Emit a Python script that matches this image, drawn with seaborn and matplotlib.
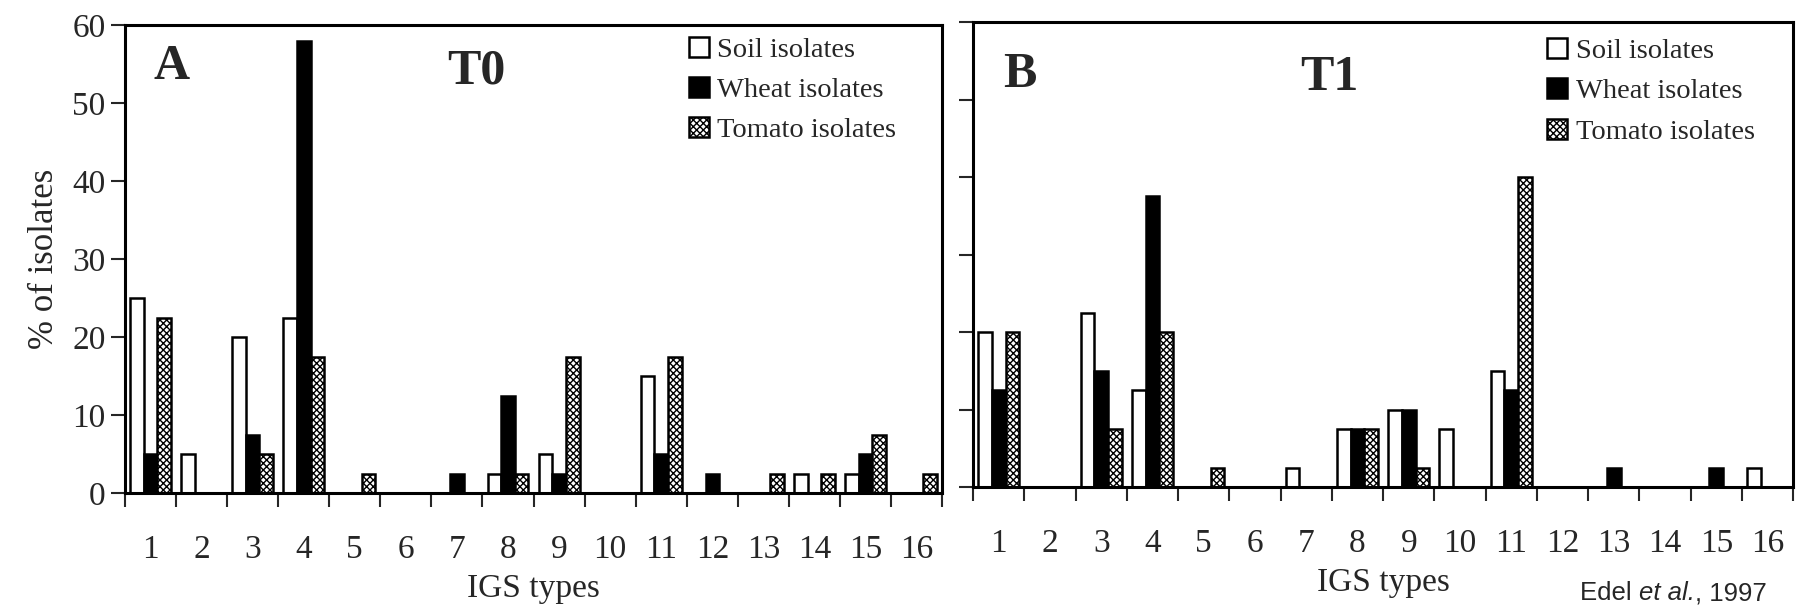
import matplotlib
matplotlib.use("Agg")
import matplotlib.pyplot as plt
import numpy as np
import pandas as pd
import seaborn as sns
from matplotlib.patches import Patch

# IGS types on the x axis
igs_types = [str(i) for i in range(1, 17)]
series = ["Soil isolates", "Wheat isolates", "Tomato isolates"]

# panel A, T0 (% of isolates)
t0_soil = [25, 5, 20, 22.5, 0, 0, 0, 2.5, 5, 0, 15, 0, 0, 2.5, 2.5, 0]
t0_wheat = [5, 0, 7.5, 58, 0, 0, 2.5, 12.5, 2.5, 0, 5, 2.5, 0, 0, 5, 0]
t0_tomato = [22.5, 0, 5, 17.5, 2.5, 0, 0, 2.5, 17.5, 0, 17.5, 0, 2.5, 2.5, 7.5, 2.5]

# panel B, T1 (% of isolates)
t1_soil = [20, 0, 22.5, 12.5, 0, 0, 2.5, 7.5, 10, 7.5, 15, 0, 0, 0, 0, 2.5]
t1_wheat = [12.5, 0, 15, 37.5, 0, 0, 0, 7.5, 10, 0, 12.5, 0, 2.5, 0, 2.5, 0]
t1_tomato = [20, 0, 7.5, 20, 2.5, 0, 0, 7.5, 2.5, 0, 40, 0, 0, 0, 0, 0]

y_ticks = [0, 10, 20, 30, 40, 50, 60]


def long_table(soil, wheat, tomato):
    rows = []
    for name, vals in zip(series, [soil, wheat, tomato]):
        for t, v in zip(igs_types, vals):
            rows.append({"IGS": t, "series": name, "pct": v})
    return pd.DataFrame(rows)


sns.set_style("ticks")
plt.rcParams["font.family"] = ["Liberation Serif", "DejaVu Serif"]
plt.rcParams["hatch.linewidth"] = 1.0

palette = {"Soil isolates": "white", "Wheat isolates": "black", "Tomato isolates": "white"}


def draw_panel(ax, df, letter, tlabel, show_ylabels, leg_x, leg_y, letter_y, t_x, t_y):
    sns.barplot(data=df, x="IGS", y="pct", hue="series", order=igs_types,
                hue_order=series, palette=palette, edgecolor="black",
                linewidth=1.8, width=0.8, gap=0, legend=False, ax=ax)
    for p in ax.containers[2]:
        p.set_hatch("xxxxx")

    ax.set_xlim(-0.5, 15.5)
    ax.set_ylim(0, 60)
    ax.set_yticks(y_ticks)
    ax.set_xticks(range(16))
    ax.set_xticklabels(igs_types, fontsize=24)
    ax.set_xticks(np.arange(-0.5, 16, 1), minor=True)
    ax.tick_params(axis="x", which="major", length=0, pad=30)
    ax.tick_params(axis="x", which="minor", length=10, width=1.5, direction="out")
    ax.tick_params(axis="y", length=10, width=1.5, direction="out", labelsize=24, pad=4)
    if not show_ylabels:
        ax.set_yticklabels([])
        ax.set_ylabel("")
    else:
        ax.set_ylabel("% of isolates", fontsize=25, labelpad=8)
    ax.set_xlabel("IGS types", fontsize=24, labelpad=6)
    for s in ax.spines.values():
        s.set_visible(True)
        s.set_linewidth(2.2)
        s.set_color("black")

    ax.text(0.057, letter_y, letter, transform=ax.transAxes, fontsize=36,
            fontweight="bold", ha="center", va="center")
    ax.text(t_x, t_y, tlabel, transform=ax.transAxes, fontsize=36,
            fontweight="bold", ha="center", va="center")

    handles = [Patch(facecolor="white", edgecolor="black", linewidth=1.8),
               Patch(facecolor="black", edgecolor="black", linewidth=1.8),
               Patch(facecolor="white", edgecolor="black", linewidth=1.8, hatch="xxxxx")]
    ax.legend(handles, series, loc="upper left", bbox_to_anchor=(leg_x, leg_y),
              frameon=False, fontsize=20.5, handlelength=0.7, handleheight=0.7,
              handletextpad=0.3, labelspacing=0.5, borderpad=0, borderaxespad=0)


fig = plt.figure(figsize=(17.98, 6.12), dpi=100)
ax_a = fig.add_axes([0.0695, 0.1944, 0.4545, 0.7647])
ax_b = fig.add_axes([0.5412, 0.2042, 0.4561, 0.7598])

draw_panel(ax_a, long_table(t0_soil, t0_wheat, t0_tomato), "A", "T0", True,
           0.69, 0.975, 0.91, 0.43, 0.9)
draw_panel(ax_b, long_table(t1_soil, t1_wheat, t1_tomato), "B", "T1", False,
           0.70, 0.965, 0.886, 0.435, 0.88)

# citation, in three pieces so "et al." can be italic in the same family
sans = ["Liberation Sans", "DejaVu Sans"]
renderer = fig.canvas.get_renderer()
x = 1580
y = 612 - 600
for piece, style in [("Edel ", "normal"), ("et al.", "italic"), (", 1997", "normal")]:
    t = fig.text(x / 1798, y / 612, piece, fontsize=18.5, family=sans, style=style,
                 ha="left", va="baseline")
    x += t.get_window_extent(renderer).width

fig.savefig("out.png", dpi=100)
